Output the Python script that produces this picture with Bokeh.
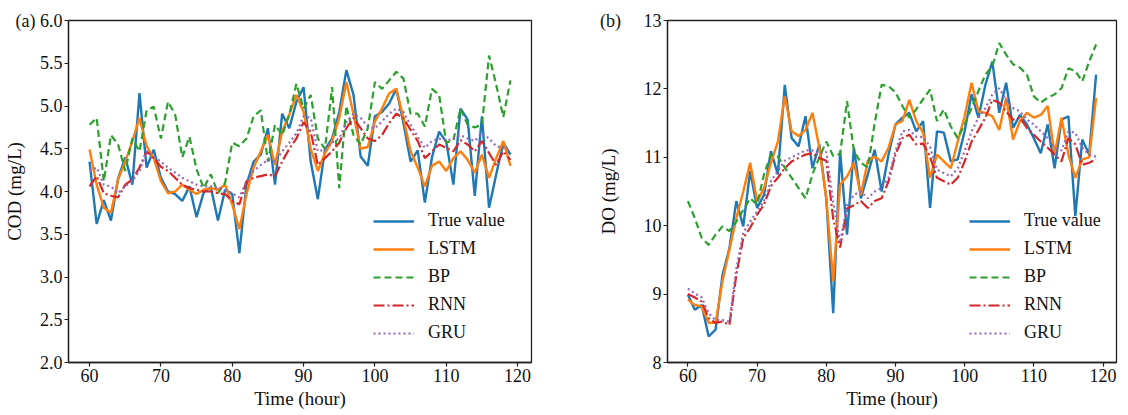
from bokeh.plotting import figure
from bokeh.layouts import row
from bokeh.models import Range1d, Legend, LegendItem, FixedTicker, PrintfTickFormatter
from bokeh.embed import file_html
from bokeh.resources import INLINE

hours = list(range(60, 120))

cod_true = [4.35, 3.62, 3.90, 3.66, 4.15, 4.40, 4.08, 5.15, 4.28, 4.49,
            4.16, 4.00, 3.97, 3.89, 4.06, 3.70, 3.99, 4.05, 3.66, 4.02,
            3.97, 3.28, 4.08, 4.35, 4.43, 4.74, 4.08, 4.91, 4.74, 5.05,
            5.22, 4.35, 3.91, 4.49, 4.62, 4.93, 5.42, 5.13, 4.41, 4.30,
            4.88, 4.93, 5.03, 5.20, 4.80, 4.35, 4.48, 3.87, 4.40, 4.70,
            4.58, 4.08, 4.97, 4.84, 3.95, 4.88, 3.81, 4.20, 4.57, 4.43]
cod_lstm = [4.49, 4.08, 3.81, 3.75, 4.14, 4.35, 4.59, 4.86, 4.53, 4.39,
            4.12, 3.98, 4.00, 4.08, 4.02, 3.97, 4.02, 4.04, 4.02, 4.08,
            3.85, 3.56, 3.97, 4.28, 4.47, 4.66, 4.31, 4.70, 4.90, 5.13,
            4.93, 4.50, 4.24, 4.45, 4.59, 4.86, 5.28, 4.90, 4.50, 4.52,
            4.82, 4.97, 5.15, 5.20, 4.86, 4.47, 4.28, 4.06, 4.30, 4.35,
            4.24, 4.39, 4.47, 4.37, 4.22, 4.43, 4.16, 4.39, 4.59, 4.30]
cod_bp = [4.78, 4.86, 4.12, 4.66, 4.55, 4.24, 4.62, 4.47, 4.95, 4.99,
          4.62, 5.05, 4.90, 4.40, 4.64, 4.26, 4.04, 4.20, 3.98, 4.10,
          4.57, 4.53, 4.62, 4.88, 4.95, 4.35, 4.78, 4.66, 4.90, 5.26,
          4.97, 5.13, 4.62, 4.50, 5.22, 4.04, 5.00, 4.66, 4.55, 4.74,
          5.28, 5.20, 5.30, 5.40, 5.32, 4.91, 4.91, 4.76, 5.20, 5.13,
          4.57, 4.60, 4.97, 4.78, 4.75, 4.78, 5.59, 5.25, 4.87, 5.30]
cod_rnn = [4.06, 4.18, 3.98, 3.95, 3.93, 4.08, 4.14, 4.28, 4.47, 4.39,
           4.29, 4.24, 4.16, 4.08, 4.04, 4.02, 4.00, 4.00, 3.98, 3.97,
           3.89, 3.85, 4.12, 4.16, 4.18, 4.20, 4.18, 4.35, 4.50, 4.62,
           4.81, 4.70, 4.31, 4.39, 4.47, 4.57, 4.74, 4.86, 4.74, 4.62,
           4.59, 4.66, 4.80, 4.91, 4.86, 4.72, 4.59, 4.39, 4.47, 4.55,
           4.51, 4.47, 4.60, 4.55, 4.47, 4.59, 4.45, 4.31, 4.47, 4.37]
cod_gru = [4.24, 4.28, 4.08, 4.06, 3.98, 4.06, 4.12, 4.24, 4.47, 4.41,
           4.35, 4.28, 4.22, 4.16, 4.12, 4.08, 4.06, 4.06, 4.04, 4.02,
           3.98, 3.93, 4.12, 4.24, 4.31, 4.37, 4.35, 4.47, 4.57, 4.68,
           4.88, 4.86, 4.47, 4.49, 4.57, 4.62, 4.81, 4.91, 4.86, 4.76,
           4.74, 4.82, 4.91, 4.97, 4.93, 4.78, 4.64, 4.51, 4.59, 4.62,
           4.59, 4.62, 4.66, 4.62, 4.59, 4.68, 4.62, 4.53, 4.51, 4.47]

do_true = [8.99, 8.77, 8.84, 8.38, 8.48, 9.28, 9.67, 10.36, 9.99, 10.80,
           10.26, 10.45, 11.09, 10.75, 12.06, 11.28, 11.16, 11.60, 10.84, 11.19,
           10.40, 8.72, 11.09, 9.87, 11.14, 10.40, 10.75, 11.11, 10.50, 11.04,
           11.48, 11.58, 11.65, 11.38, 11.53, 10.26, 11.38, 11.36, 10.94, 10.97,
           11.38, 11.92, 11.58, 12.06, 12.40, 11.65, 12.09, 11.43, 11.62, 11.48,
           11.28, 11.06, 11.48, 10.84, 11.55, 11.60, 10.14, 11.26, 11.04, 12.21]
do_lstm = [8.92, 8.84, 8.82, 8.58, 8.58, 9.19, 9.65, 10.11, 10.50, 10.92,
           10.36, 10.55, 10.92, 11.23, 11.89, 11.38, 11.31, 11.40, 11.65, 11.14,
           10.40, 9.19, 10.60, 10.72, 10.92, 10.45, 10.95, 11.01, 10.94, 11.14,
           11.48, 11.53, 11.84, 11.53, 11.36, 10.70, 11.04, 10.94, 10.84, 11.23,
           11.60, 12.09, 11.67, 11.65, 11.60, 11.40, 11.87, 11.26, 11.53, 11.65,
           11.58, 11.62, 11.75, 11.04, 11.58, 11.04, 10.70, 10.97, 11.00, 11.87]
do_bp = [10.36, 10.11, 9.82, 9.72, 9.87, 9.99, 9.92, 10.06, 10.23, 10.40,
         10.31, 10.75, 11.04, 11.01, 10.85, 10.70, 10.55, 10.40, 10.75, 11.00,
         11.23, 11.02, 11.05, 11.82, 11.09, 10.92, 10.85, 11.50, 12.06, 12.04,
         11.95, 11.75, 11.58, 11.70, 11.85, 11.99, 11.53, 11.70, 11.45, 11.28,
         11.48, 11.72, 11.97, 12.21, 12.33, 12.67, 12.50, 12.36, 12.31, 12.21,
         11.89, 11.80, 11.87, 11.92, 12.01, 12.30, 12.26, 12.11, 12.40, 12.65]
do_rnn = [9.00, 8.95, 8.89, 8.65, 8.58, 8.60, 8.55, 9.28, 9.82, 9.97,
          10.16, 10.31, 10.58, 10.70, 10.84, 10.94, 10.99, 11.04, 11.06, 10.99,
          10.95, 10.10, 9.68, 10.25, 10.30, 10.36, 10.26, 10.36, 10.40, 10.65,
          11.04, 11.28, 11.33, 11.19, 11.20, 11.01, 10.70, 10.65, 10.60, 10.70,
          10.94, 11.23, 11.40, 11.58, 11.84, 11.80, 11.67, 11.55, 11.58, 11.43,
          11.33, 11.23, 11.14, 11.04, 10.94, 11.28, 11.19, 10.89, 10.92, 10.97]
do_gru = [9.08, 9.01, 8.95, 8.72, 8.62, 8.62, 8.60, 9.37, 9.90, 10.06,
          10.21, 10.36, 10.65, 10.80, 10.95, 11.00, 11.05, 11.10, 11.10, 11.05,
          11.08, 10.35, 9.75, 10.30, 10.45, 10.50, 10.40, 10.50, 10.55, 10.70,
          11.09, 11.38, 11.40, 11.30, 11.30, 11.15, 10.82, 10.77, 10.72, 10.84,
          11.09, 11.38, 11.58, 11.72, 11.92, 12.01, 11.84, 11.72, 11.67, 11.55,
          11.48, 11.38, 11.28, 11.14, 11.10, 11.38, 11.36, 11.14, 11.04, 11.01]

series_names = ["True value", "LSTM", "BP", "RNN", "GRU"]
x_ticks = [60, 70, 80, 90, 100, 110, 120]
cod_ticks = [2.0, 2.5, 3.0, 3.5, 4.0, 4.5, 5.0, 5.5, 6.0]
do_ticks = [8, 9, 10, 11, 12, 13]
NB = "\u00a0"

FONT = "Liberation Serif"
styles = [
    dict(line_color="#1f77b4", line_width=2.4, line_dash="solid"),
    dict(line_color="#ff7f0e", line_width=2.4, line_dash="solid"),
    dict(line_color="#2ca02c", line_width=2.2, line_dash="7 4"),
    dict(line_color="#d62728", line_width=2.2, line_dash="11 3 2 3"),
    dict(line_color="#9467bd", line_width=2.2, line_dash="2 3"),
]


def make_panel(data, y_lo, y_hi, yticks, yfmt, ylabel, top_label, label_standoff,
               frame_w, b_left, b_right, leg_x):
    p = figure(frame_width=frame_w, frame_height=342,
               x_range=Range1d(57.05, 121.95), y_range=Range1d(y_lo, y_hi),
               output_backend="svg", toolbar_location=None,
               min_border_left=b_left, min_border_right=b_right,
               min_border_top=20, min_border_bottom=36,
               background_fill_color="white", border_fill_color="white")
    p.xgrid.visible = False
    p.ygrid.visible = False
    p.outline_line_color = "#222222"
    p.outline_line_width = 1.3
    for ax in (p.xaxis[0], p.yaxis[0]):
        ax.axis_line_color = "#222222"
        ax.axis_line_width = 1.3
        ax.major_tick_out = 4
        ax.major_tick_in = 0
        ax.major_tick_line_color = "#222222"
        ax.major_tick_line_width = 1.2
        ax.minor_tick_line_color = None
        ax.major_label_text_font = FONT
        ax.major_label_text_font_size = "18px"
        ax.major_label_text_color = "#111111"
        ax.axis_label_text_font = FONT
        ax.axis_label_text_font_size = "19px"
        ax.axis_label_text_font_style = "normal"
        ax.axis_label_text_color = "#111111"
        ax.major_label_standoff = 2
    p.xaxis.axis_label_standoff = 3
    p.yaxis.axis_label_standoff = label_standoff
    p.xaxis.ticker = FixedTicker(ticks=x_ticks)
    p.yaxis.ticker = FixedTicker(ticks=yticks)
    p.yaxis.formatter = PrintfTickFormatter(format=yfmt)
    p.yaxis.major_label_overrides = {y_hi: top_label}
    p.xaxis.axis_label = "Time (hour)"
    p.yaxis.axis_label = ylabel

    items = []
    for name, ys, st in zip(series_names, data, styles):
        r = p.line(hours, ys, **st)
        items.append(LegendItem(label=name, renderers=[r]))
    leg = Legend(items=items, location=(leg_x, 19))
    leg.glyph_width = 41
    leg.glyph_height = 20
    leg.label_height = 20
    leg.spacing = 7
    leg.padding = 0
    leg.margin = 0
    leg.label_standoff = 14
    leg.border_line_alpha = 0
    leg.background_fill_alpha = 0
    leg.label_text_font = FONT
    leg.label_text_font_size = "18px"
    leg.label_text_color = "#111111"
    p.add_layout(leg)
    return p


p1 = make_panel([cod_true, cod_lstm, cod_bp, cod_rnn, cod_gru], 2.0, 6.0,
                cod_ticks, "%.1f", "COD (mg/L)", "(a)" + NB + "6.0", -12,
                463, 65, 64, 305)
p2 = make_panel([do_true, do_lstm, do_bp, do_rnn, do_gru], 8.0, 13.0,
                do_ticks, "%d", "DO (mg/L)", "(b)" + NB * 5 + "13", -22,
                449, 68, 3, 302)

layout = row(p1, p2)
open("out.html", "w").write(file_html(layout, INLINE))
